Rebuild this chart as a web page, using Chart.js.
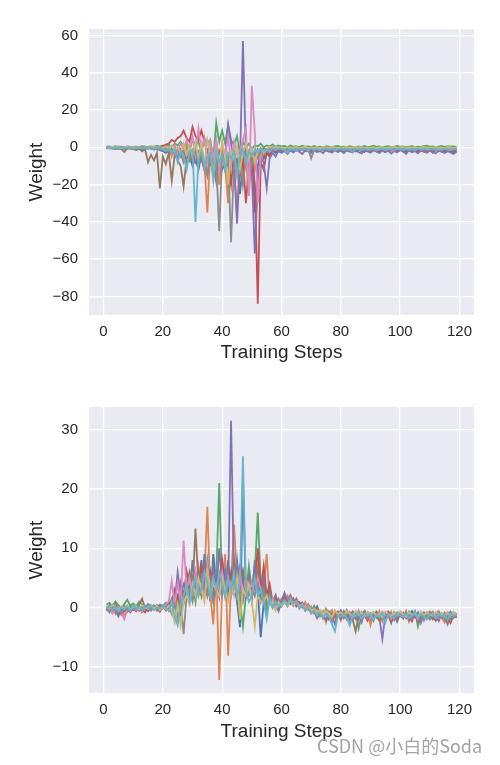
<!DOCTYPE html>
<html>
<head>
<meta charset="utf-8">
<script src="https://cdn.jsdelivr.net/npm/chart.js@4.4.1/dist/chart.umd.min.js"></script>
<style>
  html, body { margin: 0; padding: 0; background: #fff; }
  #wrap { position: relative; width: 500px; height: 765px; }
  canvas { position: absolute; left: 0; }
  #mark { position: absolute; left: 317px; top: 732px; font: 18px "Noto Sans CJK SC", "Liberation Sans", sans-serif; color: #a3a3a3; white-space: nowrap; }
</style>
</head>
<body>
<div id="wrap">
  <canvas id="topChart" width="500" height="383" style="top:0"></canvas>
  <canvas id="bottomChart" width="500" height="382" style="top:383px"></canvas>
  <div id="mark">CSDN @小白的Soda</div>
</div>
<script>
// training steps (x)
const steps = [1,2,3,4,5,6,7,8,9,10,11,12,13,14,15,16,17,18,19,20,21,22,23,24,25,26,27,28,29,30,
  31,32,33,34,35,36,37,38,39,40,41,42,43,44,45,46,47,48,49,50,51,52,53,54,55,56,57,58,59,60,
  61,62,63,64,65,66,67,68,69,70,71,72,73,74,75,76,77,78,79,80,81,82,83,84,85,86,87,88,89,90,
  91,92,93,94,95,96,97,98,99,100,101,102,103,104,105,106,107,108,109,110,111,112,113,114,115,116,117,118,119];

const xTicks = [0, 20, 40, 60, 80, 100, 120];
const topYTicks = [-80, -60, -40, -20, 0, 20, 40, 60];
const bottomYTicks = [-10, 0, 10, 20, 30];

const palette = ['#4C72B0', '#DD8452', '#55A868', '#C44E52', '#8172B3', '#937860', '#DA8BC3', '#8C8C8C', '#CCB974', '#64B5CD'];

// ---- top panel weights ----
const topBlue = [0,-0.5,-0.3,-1,-0.6,-0.2,-0.8,-0.4,-0.5,-1,
  -0.6,-0.3,-0.9,-0.5,-0.7,-0.4,-1.2,-0.8,-1.5,-2,
  -3,-1.5,-4,-2,-6,-3,-8,-4,-5,-10,
  -6,-12,-4,-8,-15,-6,-10,-18,-5,-12,
  -8,-20,-6,-14,-10,-25,-8,-4,-12,-6,
  -35,-10,-3,-6,-2,-4,-1.5,-3,-1,-2,
  -1.5,-1,-2,-1.2,-1.8,-0.8,-1.5,-2,-1,-1.6,
  -1.2,-2,-1.4,-0.9,-1.7,-1.2,-2.2,-1,-1.5,-1.8,
  -1.1,-1.6,-2,-1.3,-1.7,-1,-2.1,-1.4,-1.2,-1.9,
  -1.3,-1.7,-2.4,-1.1,-1.6,-2,-1.2,-1.5,-1.9,-1.3,
  -1.7,-2.2,-1.2,-1.6,-2,-1.4,-1.8,-2.3,-1.3,-1.6,
  -2,-1.4,-1.7,-2.4,-1.5,-1.9,-1.2,-2,-1.6];
const topOrange = [-0.3,0.2,-0.5,0.3,-0.2,-0.6,0.1,-0.4,0.2,-0.3,
  0.1,-0.5,0.2,-0.3,0,-0.4,-1,0.5,-1.5,-0.5,
  -2,0,-5,1,-3,-1,-7,2,-4,-6,
  -2,-10,1,-8,-35,-3,-12,-5,-20,2,
  -10,-30,-4,-8,-36,-2,-18,-6,-26,-3,
  -12,-2,-8,-1,-4,0,-2,-1,-0.5,-1.5,
  -0.5,-1,-0.3,-1.2,-0.6,-0.2,-0.9,-1.4,-0.4,-0.8,
  -1.1,-0.3,-0.7,-1.5,-0.5,-0.9,-1.2,-0.4,-0.8,-1.3,
  -0.6,-1,-0.4,-1.4,-0.7,-0.5,-1.1,-0.8,-1.6,-0.5,
  -0.9,-1.2,-0.6,-1,-0.4,-1.3,-0.8,-0.5,-1.1,-0.7,
  -1.4,-0.6,-0.9,-0.5,-1.2,-0.8,-1.5,-0.6,-1,-0.7,
  -1.3,-0.5,-0.9,-1.4,-0.6,-1.1,-0.8,-1.2,-0.9];
const topGreen = [0.3,0.5,0.1,0.6,0.2,0.4,0,0.5,0.3,0.2,
  0.4,0.1,0.6,0.3,0.2,0.5,0.1,0.8,0.3,1,
  0.5,1.5,0,2,1,3,0.5,2.5,-2,4,
  1,3,-3,5,2,4,-6,13,3,9,
  2,12,4,1,6,-4,3,0,2,-1,
  1,0.5,2,0,1,0.5,1.5,0.3,1,0.5,
  0.8,0.2,1,0.4,0.6,0,0.9,0.3,0.5,0.1,
  0.7,0.2,0.4,-0.1,0.6,0.3,0.1,0.5,0.8,0.2,
  0.4,0,0.6,0.3,-0.2,0.5,0.2,0.7,0.1,0.4,
  0.9,0.2,0.5,0,0.3,0.6,0.1,0.4,0.8,0.2,
  0.5,0.1,0.3,0.7,0,0.4,0.2,0.6,0.9,0.3,
  0.5,0.1,0.4,0.8,0.2,0.6,0.3,0.5,0.2];
const topRed = [0,-0.4,0.2,-0.6,0.4,-0.2,-0.5,0.3,-0.3,-0.1,
  0.3,-0.6,0.1,-0.2,0.2,-0.4,0.5,-0.1,0.3,0.6,
  1.5,2,4,3,5,6,9,5,3,11,
  6,4,9,3,-2,1,-6,3,-10,-4,
  -12,-6,-20,-3,-8,-15,-5,-30,-10,-4,
  -20,-84,-8,-12,-3,-5,-1,-2,-0.5,-1.5,
  -2,-0.8,-1.5,-2.5,-1,-1.8,-0.6,-2,-1.2,-2.6,
  -1,-1.6,-2.2,-0.9,-1.5,-2.4,-1.1,-1.7,-2,-1,
  -2.8,-1.3,-1.8,-1,-2.2,-1.5,-0.8,-2.5,-1.2,-1.9,
  -1.4,-2.1,-1,-1.7,-2.6,-1.2,-1.8,-0.9,-2.3,-1.4,
  -1.9,-3.5,-1.1,-2,-1.5,-2.7,-1.3,-1.8,-2.4,-1.2,
  -2.9,-1.5,-2,-1.1,-2.5,-1.6,-2.2,-3,-1.8];
const topPurple = [-0.5,-0.2,-0.8,-0.3,-0.6,-1,-0.4,-0.7,-0.2,-0.9,
  -0.5,-0.3,-0.8,-0.6,-0.2,-0.7,-0.4,-1,-0.5,-1.5,
  -1,-3,-0.5,-2,-4,-1,-3,-6,-2,-4,
  -8,-3,-5,-12,-2,-6,-4,-10,-3,-4,
  -5,12,2,-8,-41,-8,57,-3,-6,-14,
  -57,-18,-6,-8,-22,-6,-3,-5,-2,-3,
  -2,-3.5,-1.5,-2.8,-1.2,-2.4,-3.6,-1.7,-2.2,-3,
  -1.4,-2.6,-1.8,-3.2,-1.3,-2.1,-2.9,-1.6,-2.5,-1.9,
  -3.1,-1.5,-2.3,-2.8,-1.4,-2.6,-3.3,-1.8,-2.2,-2.9,
  -1.6,-2.4,-3,-1.7,-2.5,-1.9,-3.4,-2,-2.7,-1.5,
  -2.3,-3.1,-1.8,-2.6,-2,-3.2,-1.6,-2.4,-2.9,-1.9,
  -2.5,-3.3,-1.7,-2.2,-3,-2.1,-2.7,-3.6,-2.4];
const topBrown = [-0.2,-0.5,-0.1,-0.8,-0.3,-1,-2.5,-0.6,-0.4,-1,
  -1.5,-0.8,-2.2,-1,-8,-4,-7,-3,-22,-5,
  -9,-3,-18,-4,-7,-10,-21,-6,-3,-8,
  -4,-2,-6,-12,-3,-9,-5,-18,-2,-7,
  -3,-10,-6,-4,-8,-2,-5,-1,-3,-2,
  -4,-1,-2,-0.5,-1.5,-0.8,-1,0,-0.6,-1.2,
  -0.8,-1.3,-0.5,-1,-1.6,-0.7,-1.2,-0.4,-0.9,-1.4,
  -0.6,-1.1,-0.8,-1.5,-0.5,-1,-1.3,-0.7,-1.2,-0.9,
  -1.4,-0.6,-1,-0.8,-1.6,-0.9,-0.5,-1.2,-1,-1.5,
  -0.7,-1.1,-0.9,-1.4,-0.6,-1.2,-0.8,-1.5,-1,-0.7,
  -1.3,-0.9,-1.1,-0.6,-1.4,-1,-0.8,-1.2,-1.5,-0.9,
  -1.1,-0.7,-1.3,-0.9,-1.2,-1.6,-0.8,-1.1,-1];
const topPink = [-0.4,-0.1,-0.7,-0.3,0,-0.5,-0.2,-0.6,-0.1,-0.4,
  -0.2,-0.5,0,-0.3,-0.6,-0.1,-0.4,0.2,-0.5,0,
  -1,0.5,-2,1,-3,2,-1,4,-2,6,
  -4,10,-2,5,-8,3,-6,4,-12,2,
  -5,6,-10,3,-4,-2,4,10,-26,33,
  8,-30,-4,-2,-1,-0.5,0.5,-1,0,-0.4,
  -0.6,0,-0.8,-0.3,-0.9,-0.2,-0.7,-0.4,-1,-0.1,
  -0.5,-0.8,-0.2,-0.6,-0.9,-0.3,-0.7,-0.1,-0.5,-0.8,
  -0.4,-0.9,-0.2,-0.6,-0.3,-0.8,-0.5,-0.1,-0.7,-0.4,
  -0.9,-0.3,-0.6,-0.2,-0.8,-0.5,-0.1,-0.7,-0.4,-0.9,
  -0.3,-0.6,-0.2,-0.8,-0.5,-0.9,-0.3,-0.6,-0.1,-0.7,
  -0.4,-0.8,-0.2,-0.6,-0.9,-0.3,-0.7,-0.5,-0.4];
const topGray = [-0.3,-0.6,-0.2,-0.4,-0.8,-0.3,-0.5,-0.1,-0.7,-0.4,
  -0.6,-0.2,-0.5,-0.9,-0.3,-0.6,-0.4,-1,-0.5,-1.5,
  -0.5,-2,-1,-3,-0.5,-5,-2,-1,-7,-3,
  -2,-9,-4,-6,-15,-3,-12,-8,-45,-4,
  -10,-5,-51,-8,-14,-4,-20,-6,-2,-10,
  -3,-6,-1,-4,-2,-1,-0.5,-1.5,-0.8,-1,
  -1.2,-0.7,-1.5,-0.9,-1.1,-0.6,-1.4,-1,-0.8,-6,
  -1.5,-1.2,-0.7,-1.5,-1,-0.8,-1.3,-0.6,-1.1,-1.4,
  -0.8,-1.2,-0.9,-1.5,-0.7,-1.1,-1.3,-0.8,-1,-1.4,
  -0.9,-1.2,-0.7,-1.3,-1,-1.5,-0.8,-1.1,-0.9,-1.3,
  -1,-0.7,-1.4,-0.9,-1.2,-0.8,-1.5,-1,-1.1,-0.8,
  -1.3,-0.9,-1.2,-1.4,-0.8,-1.1,-1.3,-0.9,-1.2];
const topOlive = [0.1,-0.2,0.3,-0.1,0.2,-0.3,0,0.2,-0.2,0.1,
  -0.1,0.2,-0.3,0,0.1,-0.2,0.3,-0.4,0.2,-0.5,
  0.5,-1,1,-2,0,-3,2,-4,1,-5,
  3,-6,2,-10,4,-3,-14,-1,-8,3,
  -5,-20,-2,-6,1,-12,-3,2,-6,-1,
  -8,-2,0,-3,-1,0.5,-0.5,0.2,-0.3,0,
  -0.4,0.1,-0.5,-0.2,0.2,-0.6,-0.1,0.3,-0.4,0,
  -0.3,0.2,-0.5,-0.1,0.1,-0.4,0.3,-0.2,-0.6,0,
  -0.2,0.2,-0.4,0.1,-0.3,-0.1,0.2,-0.5,0,-0.3,
  0.1,-0.4,-0.1,0.2,-0.5,0,-0.2,0.3,-0.3,-0.1,
  0.2,-0.4,0,-0.2,0.1,-0.5,-0.1,0.2,-0.3,0,
  -0.2,0.1,-0.4,0,-0.3,0.2,-0.1,-0.4,0];
const topCyan = [-0.2,0,-0.5,-0.1,-0.3,0.1,-0.4,-0.2,0,-0.6,
  -0.3,-0.1,-0.4,0,-0.5,-0.2,-0.7,-0.3,-0.1,-1,
  -2,-0.5,-3,-1,-8,-2,-4,-12,-3,-1,
  -40,-6,-2,-10,-5,-3,-18,-2,-8,-4,
  -12,-3,-6,-2,-15,-4,-1,-8,-2,-5,
  -1,-3,-0.5,-2,-1,-2.5,-0.8,-1.5,-0.5,-1,
  -1.5,-3,-0.8,-1.2,-2,-0.6,-1.4,-1,-1.8,-0.7,
  -1.2,-0.9,-1.6,-1,-0.5,-1.3,-0.8,-1.7,-1.1,-0.6,
  -1.4,-0.9,-1.2,-2.5,-0.8,-1.1,-1.5,-0.7,-1.3,-1,
  -0.8,-1.6,-1.1,-0.6,-1.4,-0.9,-1.2,-1.8,-0.7,-1.1,
  -1.5,-0.8,-1.3,-1,-1.7,-0.6,-1.2,-0.9,-1.4,-1.1,
  -0.7,-1.6,-1,-1.3,-0.8,-1.2,-1.5,-0.9,-1.1];

// ---- bottom panel weights ----
const botBlue = [-0.5,0.3,-0.8,0.2,-1,-0.3,0.4,-0.6,0.1,-0.4,
  0.2,-0.5,0.3,-0.2,0.5,-0.3,0.1,-0.4,0.3,0,
  0.5,-0.5,1,0.5,2,-1,1,3,5,2,
  6,3,8,2,5,1,9,4,2,6,
  3,8,2,4,1,-3.3,22,2,4,1,
  8,3,-5,1,-1,2,0.5,1.5,-0.5,1,
  1.5,0.5,2,0.8,1.2,0.3,0.8,-0.2,0.5,-0.5,
  -0.8,0.2,-1,-1.5,-0.6,-1.2,-2,-0.8,-1.4,-0.5,
  -1.6,-1,-2.2,-0.7,-1.3,-1.8,-0.9,-1.5,-1.1,-2,
  -0.8,-1.4,-1.9,-1,-1.6,-0.7,-1.3,-2.1,-1,-1.5,
  -0.9,-1.7,-1.2,-0.6,-1.5,-2,-1.1,-0.8,-1.6,-1.2,
  -1.8,-0.9,-1.4,-1.1,-2,-1.3,-0.7,-1.5,-1];
const botOrange = [0.2,-0.6,0.4,-1,0.1,-0.5,-1.5,0.2,-0.3,0.5,
  -0.4,0.3,-0.8,0.1,-0.5,0.4,-0.2,0.3,-0.6,0.1,
  -0.5,0.5,-1,2,-2,4,1,6,3,5,
  2,7,4,5,17,2,-2.8,6,-12.2,3,
  9,-8.1,4,14,5,2,6,3,4,2,
  4,7,2,3,9,1,0,2,0.5,1.5,
  0.8,2,1,0.3,1.5,0.6,0,0.9,-0.4,0.2,
  -1,-0.3,-1.5,-0.6,-2.5,-1,-0.4,-1.8,-0.9,-2.2,
  -0.6,-1.3,-2.8,-1,-1.6,-0.5,-2,-1.2,-0.8,-3,
  -1.1,-1.7,-0.6,-2.3,-1,-1.5,-0.7,-2,-1.3,-0.9,
  -1.8,-0.6,-2.4,-1.2,-0.8,-1.6,-2.1,-1,-1.4,-0.7,
  -1.9,-1.1,-0.6,-1.7,-2.5,-1,-1.3,-0.8,-1.6];
const botGreen = [0.5,0.8,0.2,1,0.4,-0.2,0.6,1.3,0.3,0.7,
  0.2,1,0.5,-0.3,0.6,0.2,0.4,-0.1,0.5,0.3,
  0.8,0,1.5,2.5,0.5,3,1,5,2,4,
  1,6,3,2,8,4,1,5,21,3,
  6,2,4,8,3,1,-3.2,2,7,3,
  6,16,4,2,-1,3,1,0.5,1.5,0.2,
  1,0.4,1.8,0.6,1.2,0,0.7,-0.3,0.4,-0.8,
  0.3,-1,-0.5,-1.8,-0.2,-1.2,-2.5,-0.6,-1.4,-0.9,
  -1.7,-0.4,-1.2,-2,-0.8,-3.5,-1.1,-0.6,-1.6,-1,
  -2.2,-0.7,-1.4,-0.9,-1.8,-1.2,-2.6,-0.8,-1.3,-1,
  -1.6,-0.9,-2,-1.2,-0.6,-3.2,-1.4,-0.9,-1.7,-1.1,
  -0.7,-1.5,-2.1,-1,-1.4,-0.8,-1.9,-1.2,-1];
const botRed = [-0.3,0.1,-0.9,-0.4,0.2,-1.2,-0.5,0,-0.8,-0.2,
  -0.6,0.1,-0.4,-0.8,0,-0.5,0.2,-0.3,-0.7,0.1,
  -0.4,1,0.5,3,1,4,2,6,3,2,
  5,3,7,4,2,6,3,5,2,8,
  4,2,6,3,5,7,4,2,5,3,
  4,10,3,7,2,4,1,2,0.5,1,
  2,1.2,0.6,1.5,0.2,0.9,0.4,-0.5,0.1,-0.8,
  -0.4,-1.2,-0.6,-1.6,-0.9,-2,-1,-1.5,-0.7,-1.9,
  -1.1,-1.5,-0.8,-2.1,-1.2,-0.9,-1.7,-1.3,-2.2,-1,
  -1.5,-0.8,-2,-1.1,-1.6,-1.3,-2.4,-0.9,-1.5,-1.2,
  -1.8,-1,-1.4,-2.3,-0.9,-1.6,-1.2,-2,-1.5,-0.8,
  -1.6,-2.2,-1.1,-1.5,-0.9,-1.8,-2.6,-1.3,-1.7];
const botPurple = [-0.2,-0.8,0.3,-0.5,-1.5,-0.3,0.2,-0.7,0,-0.4,
  0.1,-0.5,-0.2,0.3,-0.6,0,-0.3,0.4,-0.1,0.2,
  0.6,-0.2,0.8,1,6,2,4,3,2,8,
  3,6,2,9,4,3,7,2,10,4,
  6,3,31.5,4,8,3,6,2,5,3,
  7,4,2,5,1,3,0.5,2,-0.5,1,
  2.5,1,1.8,0.4,1.4,0.2,0.8,-0.4,0.3,-1,
  -0.6,-1.8,-0.9,-1.3,-2.2,-0.7,-1.5,-2.8,-1,-1.6,
  -0.8,-2,-1.3,-0.7,-1.9,-1.1,-2.5,-0.9,-1.4,-1.2,
  -2,-1,-1.6,-5.3,-1.2,-0.8,-1.9,-1.3,-2.4,-1,
  -1.5,-0.9,-2.1,-1.2,-1.7,-0.8,-2.6,-1.1,-1.4,-2,
  -0.9,-1.6,-2.3,-1,-1.5,-2.8,-1.2,-0.8,-1.7];
const botBrown = [-0.1,0.4,-0.3,0.6,-0.2,0.1,-0.6,0.3,-0.4,0.2,
  -0.2,0.5,1.5,-0.1,0.4,-0.3,0.2,-0.5,0.3,-0.1,
  0.2,-0.3,0.5,1.5,-1,3,2,4,6,3,
  13.3,4,2,7,3,5,2,4,3,6,
  2,5,3,7,2,4,6,3,5,2,
  3,6,2,4,1,3,0.8,1.5,0.3,0.8,
  1.5,0.6,2,0.9,1.3,0.4,0.7,-0.2,0.5,-0.6,
  -0.3,-1,-0.5,-1.5,-0.8,-1.2,-2,-0.6,-1.4,-1.1,
  -0.7,-1.4,-1,-2,-4,-1.5,-1.1,-0.6,-1.8,-1.2,
  -0.9,-1.5,-2.2,-1,-1.4,-0.8,-1.7,-1.1,-2,-0.9,
  -1.3,-1.8,-0.7,-1.5,-1.1,-2.4,-1,-1.6,-0.8,-1.4,
  -2,-1.1,-0.8,-1.7,-1.3,-2.5,-1.1,-1.6,-0.9];
const botPink = [-0.6,-0.2,-1,-0.4,0.1,-0.8,-2,-0.3,-0.5,0,
  -0.4,0.1,-0.6,-0.2,0.2,-0.5,-0.1,0.3,-0.3,0.1,
  0.5,1,4.5,0.5,4,1,11.3,3,5,2,
  6,3,4,2,7,3,5,2,4,6,
  3,5,2,4,3,6,2,5,3,4,
  2,5,3,1,2,0.5,1.5,0,1,0.4,
  1.2,0.5,1.6,0.8,1.1,0.3,0.6,-0.1,0.4,-0.5,
  -0.2,-0.9,-0.4,-1.3,-0.7,-1.1,-1.8,-0.5,-1.2,-0.8,
  -1.4,-0.6,-1.1,-1.7,-0.9,-1.3,-0.7,-1.5,-1,-1.8,
  -0.8,-1.2,-1.6,-0.7,-1.3,-1,-1.9,-0.9,-1.4,-0.8,
  -1.2,-1.6,-0.8,-1.4,-1,-1.9,-0.7,-1.3,-1.1,-1.6,
  -0.9,-1.4,-1.8,-1,-1.2,-0.8,-1.6,-1.1,-1.3];
const botGray = [-0.3,-0.7,0.1,-0.5,-0.2,-0.9,0.2,-0.4,-0.6,-0.1,
  -0.3,0.1,-0.5,-0.2,0,-0.4,0.3,-0.2,-0.5,0,
  -0.3,0.2,-1,0.5,-2,1,-4.5,2,3,1,
  4,2,5,3,2,4,1,3,5,2,
  4,2,3,5,2,3,1,4,2,3,
  2,4,1,3,0.5,2,0,1,0.3,0.8,
  1,0.2,1.4,0.5,0.9,-0.1,0.6,-0.5,0.2,-0.8,
  -0.5,-1.2,-0.7,-1.6,-1,-1.4,-2.2,-0.8,-1.5,-1.1,
  -1.8,-0.9,-1.3,-2.1,-1,-1.6,-1.2,-0.7,-1.9,-1.3,
  -1,-1.7,-1.2,-2,-0.9,-1.5,-1.1,-1.8,-0.8,-1.4,
  -1.7,-1,-1.3,-1.9,-0.8,-1.5,-1.2,-2.2,-1,-1.6,
  -1.3,-0.9,-1.7,-1.2,-2,-1,-1.4,-1.8,-1.1];
const botOlive = [0.3,-0.1,0.5,0,-0.4,0.2,-0.2,0.4,-0.3,0.1,
  0.2,-0.3,0.4,0,-0.2,0.3,-0.1,0.2,-0.4,0.1,
  -0.2,0.3,-0.5,-2.5,0.5,-3,1,2,0.5,4,
  2,5,3,1,6,2,4,3,2,5,
  3,1,4,2,5,-2,3,2,4,1,
  -3.2,2,1,1,2,0.5,1,-0.5,0.8,0.3,
  0.9,0.3,1.2,0.4,0.8,0,0.5,-0.3,0.1,-0.6,
  -0.3,-0.8,-0.4,-1.2,-0.6,-1,-1.6,-0.5,-1.1,-0.8,
  -1.3,-0.7,-1,-1.5,-0.6,-1.2,-0.9,-1.4,-0.7,-1.1,
  -0.8,-1.3,-1,-1.6,-0.7,-1.1,-1.4,-0.9,-1.2,-0.6,
  -1.1,-1.5,-0.8,-1.2,-1,-1.6,-0.7,-1.3,-0.9,-1.1,
  -1.4,-0.8,-1.2,-1,-1.5,-0.9,-1.3,-0.7,-1.2];
const botCyan = [-0.1,0.2,-0.4,0.3,-0.7,0,-0.3,0.2,-0.5,0.4,
  -0.2,0.1,-0.3,0.2,-0.1,0.3,-0.4,0,-0.2,0.2,
  0,-0.5,1,-1.5,-3,0.5,2,4,1,3,
  5,2,3,6,4,2,5,3,6,4,
  2,5,3,6,2,4,25.5,3,1,2,
  5,2,3,1,-2,1.5,0,1,0.2,0.6,
  1.1,0.4,1.5,0.7,1,-0.2,0.5,-0.4,0,-0.9,
  -0.6,-1.3,-0.8,-1.7,-1.2,-1.5,-2.8,-4,-1.3,-1.6,
  -1,-1.7,-3,-1.2,-1.5,-0.8,-1.9,-1.1,-1.4,-1,
  -2,-1.2,-1.6,-0.9,-2.5,-1.1,-1.5,-1.8,-0.9,-1.3,
  -1.6,-1,-1.8,-1.3,-0.8,-1.7,-1.1,-1.5,-2,-1,
  -1.2,-1.8,-0.9,-1.5,-1.1,-2.1,-1,-1.4,-1.2];

const topSeries = [topBlue, topOrange, topGreen, topRed, topPurple, topBrown, topPink, topGray, topOlive, topCyan];
const bottomSeries = [botBlue, botOrange, botGreen, botRed, botPurple, botBrown, botPink, botGray, botOlive, botCyan];

const TEXT = '#262626';
const FONT = "'Liberation Sans', Arial, sans-serif";

const plotBg = {
  id: 'plotBg',
  beforeDraw(chart) {
    const { ctx, chartArea: a } = chart;
    ctx.save();
    ctx.fillStyle = '#EAEAF2';
    ctx.fillRect(a.left, a.top, a.right - a.left, a.bottom - a.top);
    ctx.restore();
  }
};

const fmt = (v) => (v < 0 ? '\u2212' + Math.abs(v) : String(v));

function makeChart(id, series, yMin, yMax, yTicks, padTop, xAxisH, xTitlePad) {
  const datasets = series.map((vals, i) => ({
    data: steps.map((s, k) => ({ x: s, y: vals[k] })),
    borderColor: palette[i % palette.length],
    borderWidth: 1.8,
    pointRadius: 0,
    tension: 0,
    fill: false,
    order: -i
  }));
  return new Chart(document.getElementById(id), {
    type: 'line',
    data: { datasets },
    options: {
      responsive: false,
      animation: false,
      devicePixelRatio: 1,
      layout: { padding: { top: padTop, right: 26, left: 0, bottom: 0 } },
      plugins: { legend: { display: false }, tooltip: { enabled: false } },
      scales: {
        x: {
          type: 'linear',
          min: -4.9,
          max: 124.9,
          afterBuildTicks: (s) => { s.ticks = xTicks.map(v => ({ value: v })); },
          afterFit: (s) => { s.height = xAxisH; },
          grid: { color: '#ffffff', lineWidth: 1.3, drawTicks: false },
          border: { display: false },
          ticks: { color: TEXT, font: { family: FONT, size: 15 }, padding: 8, maxRotation: 0, callback: fmt },
          title: { display: true, text: 'Training Steps', color: TEXT, font: { family: FONT, size: 19, lineHeight: 1.2 }, padding: { top: 0, bottom: xTitlePad } }
        },
        y: {
          type: 'linear',
          min: yMin,
          max: yMax,
          afterBuildTicks: (s) => { s.ticks = yTicks.map(v => ({ value: v })); },
          afterFit: (s) => { s.width = 89; },
          grid: { color: '#ffffff', lineWidth: 1.3, drawTicks: false },
          border: { display: false },
          ticks: { color: TEXT, font: { family: FONT, size: 15 }, padding: 11, callback: fmt },
          title: { display: true, text: 'Weight', color: TEXT, font: { family: FONT, size: 19, lineHeight: 1.2 }, padding: { top: 25, bottom: 0 } }
        }
      }
    },
    plugins: [plotBg]
  });
}

makeChart('topChart', topSeries, -90, 63.5, topYTicks, 29, 68, 19);
makeChart('bottomChart', bottomSeries, -14.4, 33.8, bottomYTicks, 24, 72, 22);
</script>
</body>
</html>
